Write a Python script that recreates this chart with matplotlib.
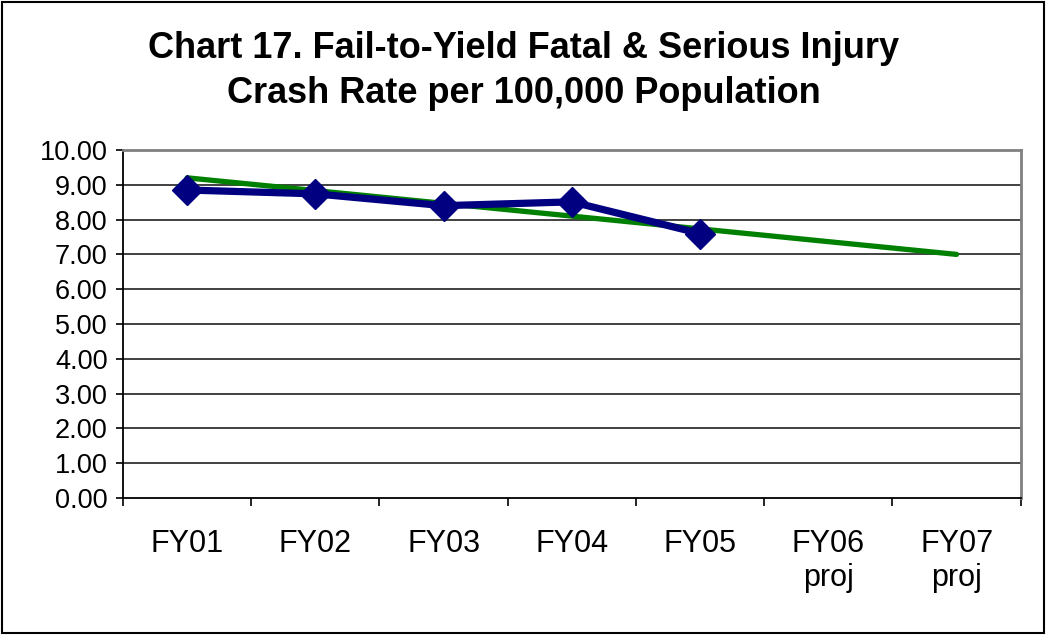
import matplotlib
matplotlib.use('Agg')
import matplotlib.pyplot as plt
from matplotlib.patches import Rectangle

plt.rcParams['font.family'] = ['Liberation Sans', 'DejaVu Sans']

# Data
categories = ['FY01', 'FY02', 'FY03', 'FY04', 'FY05', 'FY06\nproj', 'FY07\nproj']
rates = [8.85, 8.74, 8.40, 8.51, 7.60]
trend_cats = ['FY01', 'FY07\nproj']
trend_vals = [9.20, 7.00]
yticks = [0, 1, 2, 3, 4, 5, 6, 7, 8, 9, 10]

fig = plt.figure(figsize=(10.46, 6.35), dpi=100)
ax = fig.add_axes([0.1176, 0.2157, 0.8582, 0.5481])

xpos = {c: i for i, c in enumerate(categories)}

# gridlines first
for v in yticks[1:-1]:
    ax.axhline(v, color='#333333', lw=1.3, zorder=1)

# trend line
ax.plot([xpos[c] for c in trend_cats], trend_vals, color='#008000', lw=3.8,
        solid_capstyle='round', zorder=3)
# actual values
ax.plot([xpos[c] for c in categories[:len(rates)]], rates, color='#000080', lw=5.2,
        marker='D', markersize=15, markeredgewidth=1, markeredgecolor='#000080',
        markerfacecolor='#000080', zorder=4)

ax.set_xlim(-0.5, len(categories) - 0.5)
ax.set_ylim(0, 10)
ax.set_yticks(yticks)
ax.set_yticklabels(['%.2f' % v for v in yticks], fontsize=19.5)

ax.set_xticks([i - 0.5 for i in range(len(categories) + 1)])
ax.set_xticklabels([])
ax.set_xticks(range(len(categories)), minor=True)
ax.set_xticklabels(categories, minor=True, fontsize=22)
ax.tick_params(axis='x', which='major', length=6, width=1.2, direction='out', color='black')
ax.tick_params(axis='x', which='minor', length=0, pad=22)
ax.tick_params(axis='y', length=5, width=1.2, direction='out', pad=6)

for s in ['left', 'bottom']:
    ax.spines[s].set_color('black')
    ax.spines[s].set_linewidth(1.3)
for s in ['top', 'right']:
    ax.spines[s].set_color('#808080')
    ax.spines[s].set_linewidth(2)

fig.text(0.501, 0.888, 'Chart 17. Fail-to-Yield Fatal & Serious Injury\nCrash Rate per 100,000 Population',
         ha='center', va='center', fontsize=26, fontweight='bold', linespacing=1.38)

# outer frame of the chart
fig.patches.append(Rectangle((0.002, 0.003), 0.996, 0.994, transform=fig.transFigure,
                             fill=False, edgecolor='black', lw=1.5))

fig.savefig('out.png', dpi=100)
